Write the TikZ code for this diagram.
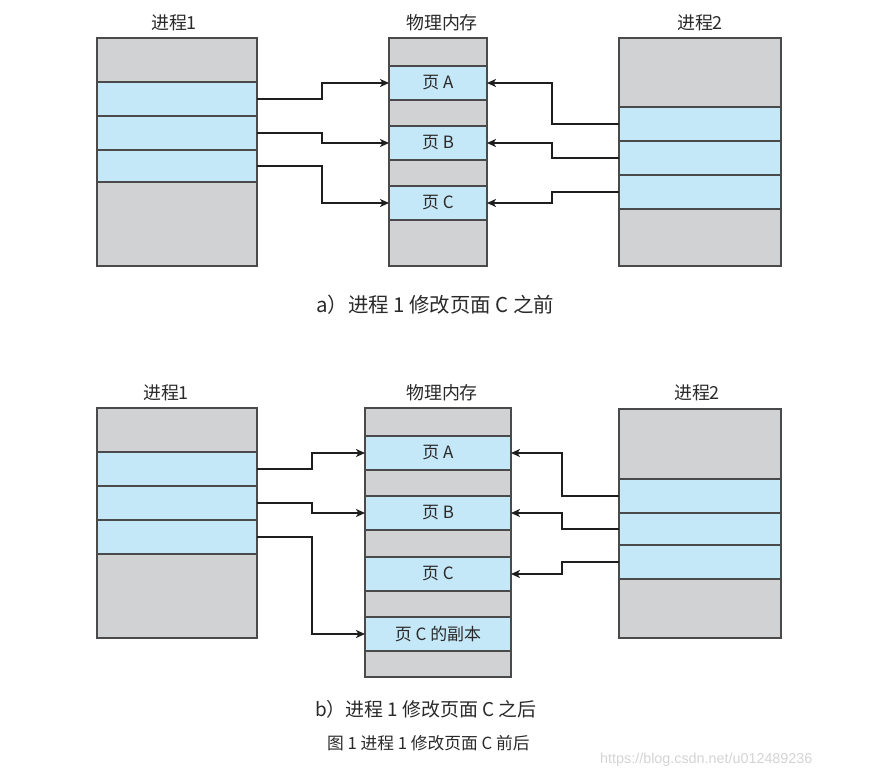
\documentclass[tikz,border=0pt]{standalone}
\usepackage{fontspec}
\setmainfont{Noto Sans CJK SC}
\newfontfamily\wmfont{Liberation Sans}
\usetikzlibrary{arrows.meta}
\definecolor{gcol}{HTML}{D1D2D4}
\definecolor{bcol}{HTML}{C5E8F8}
\definecolor{bord}{HTML}{4A4A4A}
\definecolor{txt}{HTML}{2A2A2A}
\definecolor{linec}{HTML}{1E1E1E}
\definecolor{wmc}{HTML}{D4D4D4}
\tikzset{
  strip/.style={draw=bord, line width=1.2bp, inner sep=0pt, outer sep=0pt, anchor=north west, text=txt, font=\fontsize{17}{20}\selectfont},
  gs/.style={strip, fill=gcol},
  bs/.style={strip, fill=bcol},
  title/.style={text=txt, font=\fontsize{18}{21}\selectfont, inner sep=0pt},
  captxt/.style={text=txt, inner sep=0pt},
  conn/.style={draw=linec, line width=2.5bp, -{Stealth[length=9bp,width=8bp,inset=2.5bp]}},
}
\begin{document}
\begin{tikzpicture}[x=1bp,y=-1bp]
\useasboundingbox[fill=white] (0,0) rectangle (871,779);

% ---------- (a) ----------
\node[title] (t1a) at (174,23) {进程1};
\node[title] (tma) at (442,23) {物理内存};
\node[title] (t2a) at (700,23) {进程2};

% process 1
\node[gs, minimum width=160bp, minimum height=44bp] (a1t) at (97,38) {};
\node[bs, minimum width=160bp, minimum height=34bp] (a1b1) at (97,82) {};
\node[bs, minimum width=160bp, minimum height=34bp] (a1b2) at (97,116) {};
\node[bs, minimum width=160bp, minimum height=32bp] (a1b3) at (97,150) {};
\node[gs, minimum width=160bp, minimum height=84bp] (a1g) at (97,182) {};

% memory
\node[gs, minimum width=98bp, minimum height=28bp] (am0) at (389,38) {};
\node[bs, minimum width=98bp, minimum height=34bp] (amA) at (389,66) {页 A};
\node[gs, minimum width=98bp, minimum height=26bp] (am1) at (389,100) {};
\node[bs, minimum width=98bp, minimum height=34bp] (amB) at (389,126) {页 B};
\node[gs, minimum width=98bp, minimum height=26bp] (am2) at (389,160) {};
\node[bs, minimum width=98bp, minimum height=34bp] (amC) at (389,186) {页 C};
\node[gs, minimum width=98bp, minimum height=46bp] (am3) at (389,220) {};

% process 2
\node[gs, minimum width=162bp, minimum height=69bp] (a2t) at (619,38) {};
\node[bs, minimum width=162bp, minimum height=34bp] (a2b1) at (619,107) {};
\node[bs, minimum width=162bp, minimum height=34bp] (a2b2) at (619,141) {};
\node[bs, minimum width=162bp, minimum height=34bp] (a2b3) at (619,175) {};
\node[gs, minimum width=162bp, minimum height=57bp] (a2g) at (619,209) {};

\draw[conn] (a1b1.east) -- ++(65,0) |- (amA.west);
\draw[conn] (a1b2.east) -- ++(65,0) |- (amB.west);
\draw[conn] (a1b3.east) -- ++(65,0) |- (amC.west);
\draw[conn] (a2b1.west) -- ++(-67,0) |- (amA.east);
\draw[conn] (a2b2.west) -- ++(-67,0) |- (amB.east);
\draw[conn] (a2b3.west) -- ++(-67,0) |- (amC.east);

\node[captxt, font=\fontsize{20.5}{24}\selectfont, anchor=west] (capa) at (316,305) {a）进程 1 修改页面 C 之前};

% ---------- (b) ----------
\node[title] (t1b) at (166,393) {进程1};
\node[title] (tmb) at (442,393) {物理内存};
\node[title] (t2b) at (697,393) {进程2};

% process 1
\node[gs, minimum width=160bp, minimum height=44bp] (b1t) at (97,408) {};
\node[bs, minimum width=160bp, minimum height=34bp] (b1b1) at (97,452) {};
\node[bs, minimum width=160bp, minimum height=34bp] (b1b2) at (97,486) {};
\node[bs, minimum width=160bp, minimum height=34bp] (b1b3) at (97,520) {};
\node[gs, minimum width=160bp, minimum height=84bp] (b1g) at (97,554) {};

% memory
\node[gs, minimum width=146bp, minimum height=28bp] (bm0) at (365,408) {};
\node[bs, minimum width=146bp, minimum height=34bp] (bmA) at (365,436) {页 A};
\node[gs, minimum width=146bp, minimum height=26bp] (bm1) at (365,470) {};
\node[bs, minimum width=146bp, minimum height=34bp] (bmB) at (365,496) {页 B};
\node[gs, minimum width=146bp, minimum height=27bp] (bm2) at (365,530) {};
\node[bs, minimum width=146bp, minimum height=34bp] (bmC) at (365,557) {页 C};
\node[gs, minimum width=146bp, minimum height=26bp] (bm3) at (365,591) {};
\node[bs, minimum width=146bp, minimum height=34bp] (bmD) at (365,617) {页 C 的副本};
\node[gs, minimum width=146bp, minimum height=26bp] (bm4) at (365,651) {};

% process 2
\node[gs, minimum width=162bp, minimum height=70bp] (b2t) at (619,409) {};
\node[bs, minimum width=162bp, minimum height=34bp] (b2b1) at (619,479) {};
\node[bs, minimum width=162bp, minimum height=32bp] (b2b2) at (619,513) {};
\node[bs, minimum width=162bp, minimum height=34bp] (b2b3) at (619,545) {};
\node[gs, minimum width=162bp, minimum height=59bp] (b2g) at (619,579) {};

\draw[conn] (b1b1.east) -- ++(55,0) |- (bmA.west);
\draw[conn] (b1b2.east) -- ++(55,0) |- (bmB.west);
\draw[conn] (b1b3.east) -- ++(55,0) |- (bmD.west);
\draw[conn] (b2b1.west) -- ++(-57,0) |- (bmA.east);
\draw[conn] (b2b2.west) -- ++(-57,0) |- (bmB.east);
\draw[conn] (b2b3.west) -- ++(-57,0) |- (bmC.east);

\node[captxt, font=\fontsize{19}{23}\selectfont, anchor=west] (capb) at (315,709) {b）进程 1 修改页面 C 之后};
\node[captxt, font=\fontsize{16.8}{20}\selectfont, anchor=west] (fig) at (327,743) {图 1 进程 1 修改页面 C 前后};
\node[text=wmc, font=\wmfont\fontsize{14.4}{17}\selectfont, inner sep=0pt, anchor=west] (wm) at (600,760) {https://blog.csdn.net/u012489236};
\end{tikzpicture}
\end{document}
